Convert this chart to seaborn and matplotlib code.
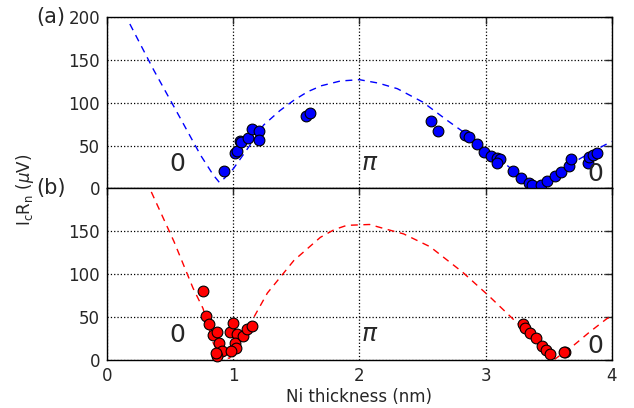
import pandas as pd
import matplotlib
matplotlib.use("Agg")
import matplotlib.pyplot as plt
import seaborn as sns

# (a) measured points
a_x = [0.93, 1.01, 1.03, 1.05, 1.06, 1.12, 1.15, 1.20, 1.20, 1.58, 1.61,
       2.57, 2.62, 2.84, 2.87, 2.93, 2.99, 3.04, 3.09, 3.11, 3.09, 3.22,
       3.28, 3.34, 3.37, 3.44, 3.49, 3.55, 3.60, 3.66, 3.68, 3.81, 3.82,
       3.85, 3.88]
a_y = [20, 41, 44, 55, 54, 59, 69, 67, 57, 85, 88,
       79, 67, 62, 60, 52, 43, 38, 36, 34, 30, 20,
       12, 6, 4, 4, 9, 15, 19, 26, 34, 30, 37,
       39, 41]

# (a) fit curve
a_fit_x = [0.18, 0.37, 0.58, 0.74, 0.84, 0.89, 0.93, 1.00, 1.12, 1.24, 1.37,
           1.48, 1.59, 1.70, 1.85, 2.00, 2.15, 2.30, 2.50, 2.70, 2.88, 3.06,
           3.17, 3.25, 3.32, 3.38, 3.45, 3.55, 3.65, 3.75, 3.87, 4.00]
a_fit_y = [192, 138, 82, 39, 16, 7, 12, 23, 48, 74, 91,
           103, 113, 120, 125.5, 127, 123, 116.5, 101, 79, 60, 39,
           27, 17, 8, 1, 8, 17, 26, 35, 45, 55]

# (b) measured points
b_x = [0.76, 0.78, 0.81, 0.84, 0.87, 0.89, 0.91, 0.87, 0.86, 0.97, 1.00,
       1.03, 1.01, 1.02, 0.98, 1.08, 1.11, 1.15,
       3.30, 3.31, 3.35, 3.40, 3.45, 3.48, 3.51, 3.63, 3.62]
b_y = [80, 51, 42, 29, 33, 20, 10, 4, 8, 33, 43,
       30, 20, 14, 10, 28, 36, 39,
       42, 37, 31, 25, 16, 11, 7, 9, 9]

# (b) fit curve
b_fit_x = [0.35, 0.53, 0.68, 0.76, 0.84, 0.90, 0.97, 1.08, 1.16, 1.27, 1.32,
           1.48, 1.69, 1.80, 1.90, 2.08, 2.20, 2.35, 2.56, 2.82, 3.03, 3.25,
           3.40, 3.55, 3.69, 3.82, 3.96, 4.00]
b_fit_y = [196, 138, 84, 60, 20, 2, 2, 27, 49, 78, 87,
           116, 143, 152, 157, 158, 153, 147, 132, 102, 74, 43,
           22, 1, 16, 32, 48, 51]

sns.set_style("white")
plt.rcParams["font.family"] = ["DejaVu Sans"]
plt.rcParams["mathtext.fontset"] = "dejavusans"

fig, (ax1, ax2) = plt.subplots(2, 1, figsize=(6.34, 4.08), dpi=100, sharex=True)
fig.subplots_adjust(left=0.169, right=0.965, top=0.958, bottom=0.118, hspace=0)

panels = [
    (ax1, a_x, a_y, a_fit_x, a_fit_y, "blue", [0, 50, 100, 150, 200], "(a)", 17),
    (ax2, b_x, b_y, b_fit_x, b_fit_y, "red", [0, 50, 100, 150], "(b)", 16),
]

for ax, px, py, fx, fy, col, yt, tag, zr in panels:
    sns.lineplot(x=fx, y=fy, ax=ax, color=col, lw=1, dashes=False, sort=False)
    ax.lines[-1].set_dashes((5, 4))
    sns.scatterplot(x=px, y=py, ax=ax, color=col, s=60, edgecolor="black",
                    linewidth=0.8, zorder=3, clip_on=False)
    ax.set_xlim(0, 4)
    ax.set_ylim(0, 200)
    ax.set_yticks(yt)
    ax.set_xticks([0, 1, 2, 3, 4])
    ax.grid(True, color="black", linestyle=":", linewidth=0.9)
    ax.tick_params(direction="in", top=True, right=True, length=5,
                   labelsize=12, width=1, pad=5)
    for s in ax.spines.values():
        s.set_color("black")
        s.set_linewidth(1)
    ax.text(0.56, 29, "0", fontsize=18, ha="center", va="center")
    ax.text(2.08, 30, r"$\pi$", fontsize=18, ha="center", va="center")
    ax.text(3.87, zr, "0", fontsize=18, ha="center", va="center")
    ax.text(-0.33, 200, tag, fontsize=15, ha="right", va="center")

ax2.set_xlabel("Ni thickness (nm)", fontsize=12, labelpad=2)
fig.text(0.04, 0.535, r"I$_\mathrm{c}$R$_\mathrm{n}$ ($\mu$V)", rotation=90,
         fontsize=12, ha="center", va="center")

fig.savefig("out.png", dpi=100)
